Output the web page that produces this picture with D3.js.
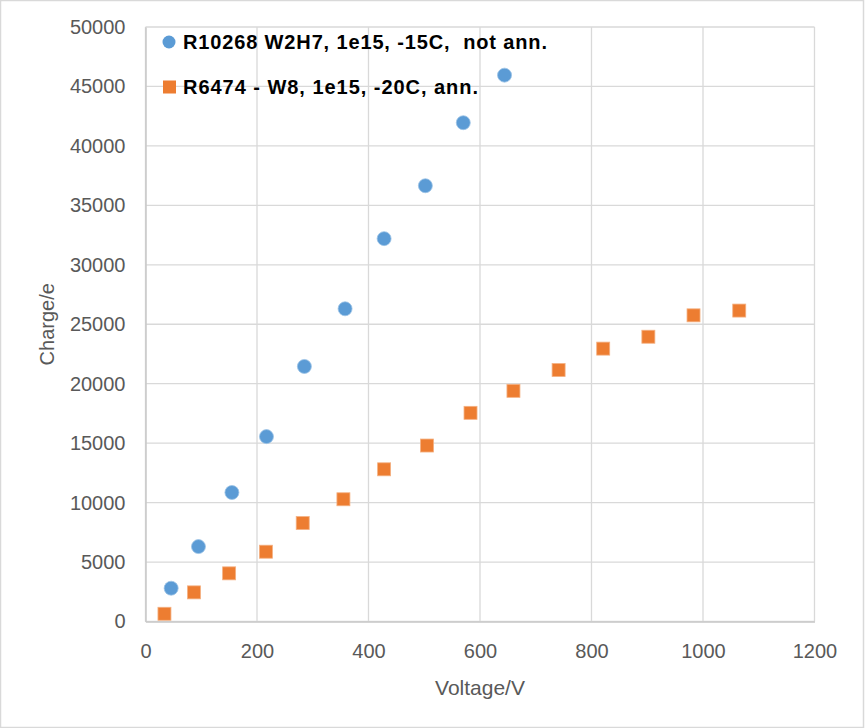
<!DOCTYPE html>
<html>
<head>
<meta charset="utf-8">
<script src="https://cdn.jsdelivr.net/npm/d3@7"></script>
<style>
  html, body { margin: 0; padding: 0; background: #fff; }
  svg { display: block; }
</style>
</head>
<body>
<svg id="chart" width="866" height="728"></svg>
<script>
// Series: collected charge vs bias voltage
const seriesNames = [
  "R10268 W2H7, 1e15, -15C,  not ann.",
  "R6474 - W8, 1e15, -20C, ann."
];
const voltageA = [46, 95, 155, 217, 285, 358, 428, 502, 570, 644];
const chargeA  = [2800, 6300, 10850, 15550, 21450, 26300, 32200, 36650, 41950, 45950];
const voltageB = [34, 87, 150, 216, 282, 355, 428, 505, 583, 660, 741, 821, 902, 983, 1065];
const chargeB  = [650, 2450, 4050, 5870, 8280, 10280, 12800, 14800, 17550, 19400, 21150, 22950, 23950, 25750, 26150];
const xTicks = [0, 200, 400, 600, 800, 1000, 1200];
const yTicks = [0, 5000, 10000, 15000, 20000, 25000, 30000, 35000, 40000, 45000, 50000];
const xTitle = "Voltage/V";
const yTitle = "Charge/e";

const svg = d3.select("#chart");
const W = 866, H = 728;
const plot = { left: 145.5, right: 814.5, top: 27, bottom: 621.5 };
const font = "'Liberation Sans', Arial, sans-serif";
const textColor = "#595959";
const gridColor = "#d9d9d9";
const blue = "#5b9bd5", orange = "#ed7d31";

// Outer chart frame
svg.append("rect")
  .attr("x", 0.5).attr("y", 0.5).attr("width", W - 3).attr("height", H - 1)
  .attr("fill", "#fff").attr("stroke", gridColor).attr("stroke-width", 1.5);

const x = d3.scaleLinear().domain([0, 1200]).range([plot.left, plot.right]);
const y = d3.scaleLinear().domain([0, 50000]).range([plot.bottom, plot.top]);

// Gridlines
svg.append("g").selectAll("line.v").data(xTicks).join("line")
  .attr("x1", d => x(d)).attr("x2", d => x(d))
  .attr("y1", plot.top).attr("y2", plot.bottom)
  .attr("stroke", gridColor).attr("stroke-width", 1.3);
svg.append("g").selectAll("line.h").data(yTicks).join("line")
  .attr("x1", plot.left).attr("x2", plot.right)
  .attr("y1", d => y(d)).attr("y2", d => y(d))
  .attr("stroke", gridColor).attr("stroke-width", 1.3);

// Axes (lines + tick labels)
const xAxis = svg.append("g")
  .attr("transform", `translate(0,${plot.bottom})`)
  .call(d3.axisBottom(x).tickValues(xTicks).tickSize(0).tickPadding(22).tickFormat(d3.format("d")));
const yAxis = svg.append("g")
  .attr("transform", `translate(${plot.left},0)`)
  .call(d3.axisLeft(y).tickValues(yTicks).tickSize(0).tickPadding(20).tickFormat(d3.format("d")));
[xAxis, yAxis].forEach(g => {
  g.select(".domain").attr("stroke", "#c8c8c8").attr("stroke-width", 1.5);
  g.selectAll("text").attr("fill", textColor)
    .style("font-family", font).style("font-size", "20px");
});

// Axis titles
svg.append("text")
  .attr("x", 480).attr("y", 695)
  .attr("text-anchor", "middle")
  .attr("fill", textColor).style("font-family", font).style("font-size", "21px")
  .text(xTitle);
svg.append("text")
  .attr("transform", `translate(54,${(plot.top + plot.bottom) / 2}) rotate(-90)`)
  .attr("text-anchor", "middle")
  .attr("fill", textColor).style("font-family", font).style("font-size", "20px")
  .text(yTitle);

// Markers
const dataA = voltageA.map((v, i) => ({ v, q: chargeA[i] }));
const dataB = voltageB.map((v, i) => ({ v, q: chargeB[i] }));

svg.append("g").selectAll("circle").data(dataA).join("circle")
  .attr("cx", d => x(d.v)).attr("cy", d => y(d.q)).attr("r", 7)
  .attr("fill", blue).attr("stroke", "#9cc3e6").attr("stroke-width", 0.8);

const s = 13;
svg.append("g").selectAll("rect").data(dataB).join("rect")
  .attr("x", d => x(d.v) - s / 2).attr("y", d => y(d.q) - s / 2)
  .attr("width", s).attr("height", s)
  .attr("fill", orange).attr("stroke", "#f4b183").attr("stroke-width", 0.8);

// Legend
const legend = svg.append("g");
const rows = [{ y: 42, name: seriesNames[0], kind: "circle", len: 364 },
              { y: 87, name: seriesNames[1], kind: "square", len: 295 }];
rows.forEach(r => {
  if (r.kind === "circle") {
    legend.append("circle").attr("cx", 169).attr("cy", r.y).attr("r", 6.5).attr("fill", blue);
  } else {
    legend.append("rect").attr("x", 163).attr("y", r.y - 6.5).attr("width", 13).attr("height", 13).attr("fill", orange);
  }
  legend.append("text")
    .attr("x", 183).attr("y", r.y).attr("dy", "0.36em")
    .attr("textLength", r.len).attr("lengthAdjust", "spacing")
    .style("white-space", "pre")
    .attr("fill", "#000").style("font-family", font).style("font-size", "20px").style("font-weight", "bold")
    .text(r.name);
});
</script>
</body>
</html>
